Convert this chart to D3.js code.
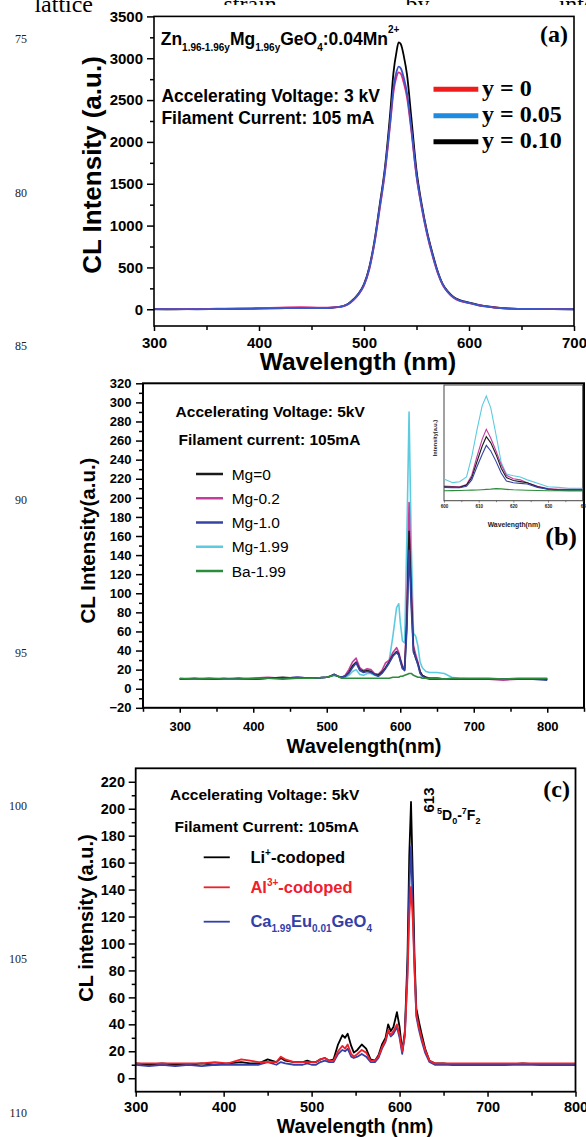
<!DOCTYPE html>
<html><head><meta charset="utf-8">
<script src="https://cdn.jsdelivr.net/npm/d3@7"></script>
<style>body{margin:0;background:#fff}svg{display:block}</style>
</head><body><svg id="c" width="586" height="1137"></svg>
<script>
// ---------------- DATA ----------------
// Panel (a)
const seriesA = ["y = 0", "y = 0.05", "y = 0.10"];
const waveA = [300,320,340,360,380,400,420,440,460,470,480,485,490,495,500,505,510,515,520,525,528,531,533,535,538,541,545,550,555,560,565,570,575,580,585,590,595,600,610,620,630,640,660,680,700];
const aY000 = [2,4,3,6,8,12,20,24,18,22,36,60,110,180,285,475,790,1200,1640,2220,2590,2780,2830,2815,2700,2530,2140,1590,1210,900,650,440,290,200,140,105,88,72,45,28,14,8,4,2,1];
const aY005 = [0,2,0,3,5,8,12,15,13,18,36,62,115,185,290,485,800,1220,1660,2250,2640,2840,2900,2880,2760,2580,2170,1600,1220,910,660,450,295,205,145,110,90,75,45,28,14,7,3,1,0];
const aY010 = [3,0,2,4,6,10,14,16,14,20,38,65,120,190,300,500,820,1250,1700,2350,2820,3080,3190,3170,3020,2800,2300,1660,1250,930,680,460,300,210,150,115,95,80,50,30,15,8,4,2,0];
const ticksAX = [300,400,500,600,700];
const ticksAY = [0,500,1000,1500,2000,2500,3000,3500];

// Panel (b)
const seriesB = ["Mg=0", "Mg-0.2", "Mg-1.0", "Mg-1.99", "Ba-1.99"];
const waveB = [300,320,340,360,380,400,420,440,460,480,500,505,510,515,520,525,530,535,540,545,550,555,560,565,570,575,580,585,590,595,598,600,603,606,609,612,615,618,621,624,627,630,635,640,650,660,670,680,700,720,740,760,780,800];
const bMg0   = [10,11,10,10,11,10,11,12,11,11,12,13,15,13,12,13,17,24,28,20,18,19,18,15,14,17,22,28,35,39,36,30,22,20,70,165,95,40,32,26,18,14,12,11,11,10,10,10,10,10,10,10,10,10];
const bMg02  = [10,10,11,10,10,11,12,11,12,11,12,13,15,13,12,14,20,28,32,22,19,21,20,16,15,19,27,30,38,43,38,32,24,22,85,195,110,45,36,28,18,14,12,11,11,10,10,10,10,10,9,10,10,10];
const bMg10  = [10,10,10,11,10,10,11,11,12,11,12,13,15,13,12,13,16,22,27,19,17,18,17,15,13,16,21,27,34,38,35,29,21,19,62,145,85,38,33,25,16,13,11,10,10,10,10,10,10,10,10,10,10,9];
const bMg199 = [10,10,10,10,11,10,11,11,12,11,12,13,14,13,12,12,14,18,20,15,14,16,16,14,13,16,22,30,55,85,89,70,50,48,160,290,150,58,55,45,28,22,18,17,17,16,12,11,10,10,10,10,10,10];
const bBa199 = [11,10,11,10,10,11,11,10,11,11,12,13,14,13,11,11,11,11,11,11,11,11,11,11,11,11,11,11,12,12,12,13,13,14,15,16,16,14,13,12,12,11,11,11,11,10,11,11,11,11,10,11,11,11];
const ticksBX = [300,400,500,600,700,800];
const ticksBY = [-20,0,20,40,60,80,100,120,140,160,180,200,220,240,260,280,300,320];

// Inset of (b)
const waveI = [600,602.5,604.5,606.5,608,609.5,611,612.2,613.5,615,616.5,618,620,622,624,627,630,633,636,640];
const iMg0   = [12.1,11.8,11.5,13.5,20,33.7,47,55.3,50,40,28,20,17.5,16.5,15.5,12,10,9.2,9.2,9.2];
const iMg02  = [12.7,12.3,12.1,14,22,38,53,61.7,54,43,31,22,19,18,15.5,12.5,10.5,9.8,9.8,9.8];
const iMg10  = [11.5,11.3,11.2,12.5,18,29.4,40,47.8,43,34,24,17,15.5,15,14.4,11.5,10,8.8,8.6,8.6];
const iMg199 = [18.8,15.6,16.4,20.5,38,61,82,90.5,80,57,33,23,21.5,20.5,18,15,12,11.5,10.7,10.7];
const iBa199 = [8.6,8.7,8.8,9,9.1,9.2,9.5,9.8,10,10.4,10.2,9.8,9.4,9.2,9,8.8,8.6,8.6,8.6,8.6];
const ticksIX = [600,610,620,630,640];
const ticksIXLabels = ["600","610","620","630","64"];

// Panel (c)
const waveC = [300,315,330,345,360,375,390,405,420,430,440,450,460,465,470,480,490,495,500,505,510,515,520,525,530,535,538,541,545,548,552,557,562,567,572,576,580,584,587,590,593,597,600,603,606,609,611,613,615,617,619,622,625,629,634,640,650,660,680,700,720,740,760,780,800];
const cLi = [11,10,11,10,10,11,10,11,12,11,11,14,12,15,13,12,12,13,12,12,14,15,13,14,25,32,30,33,24,19,21,25,22,14,13,17,25,30,40,35,38,49,38,20,35,90,165,205,150,90,52,42,33,22,13,11,11,10,10,10,10,11,10,10,10];
const cAl = [11,11,11,11,11,11,12,11,14,13,12,12,12,16,14,12,12,12,12,12,14,15,13,13,20,24,22,25,18,16,18,21,19,13,13,16,23,28,36,32,35,40,32,20,32,75,120,142,118,80,48,38,30,21,13,11,11,11,11,11,11,11,11,11,11];
const cCa = [10,9,10,9,10,9,10,10,10,10,10,12,10,12,11,10,10,11,10,10,12,13,12,12,18,21,20,22,16,15,16,18,16,12,12,15,22,27,35,31,33,38,30,18,32,80,140,172,128,82,46,36,28,19,12,10,10,10,10,10,10,10,10,10,10];
const ticksCX = [300,400,500,600,700,800];
const ticksCY = [0,20,40,60,80,100,120,140,160,180,200,220];

// page text
const headerWords = ["lattice","strain","by","inter"];
const lineNumbers = ["75","80","85","90","95","100","105","110"];

// ---------------- STYLE / LAYOUT ----------------
const SANS = '"Liberation Sans", Arial, Helvetica, sans-serif';
const SERIF = '"Liberation Serif", "Times New Roman", Times, serif';
const legendColorsA = ["#f01c1c", "#1e8ae0", "#000000"];
const curveColorsA = ["#e02c7c", "#3a56c8", "#000000"];
const colorsB = ["#1a1a1a", "#c43c9c", "#3444a4", "#5ccbe0", "#2b8c3c"];
const colorsC = ["#000000", "#f0202a", "#3240a8"];
const headerX = [34.4, 223.5, 405.5, 558.7];
const lineNumY = [42.7, 197.3, 350, 504, 657.3, 810, 963.3, 1117.3];

const svg = d3.select('#c');
svg.append('rect').attr('width',586).attr('height',1137).attr('fill','#fff');

headerWords.forEach((w,i)=>svg.append('text').attr('x',headerX[i]).attr('y',12)
  .attr('font-family',SERIF).attr('font-size',24).attr('fill','#000').text(w));
svg.append('rect').attr('x',100).attr('y',5).attr('width',486).attr('height',20).attr('fill','#fff');
lineNumbers.forEach((n,i)=>svg.append('text').attr('x',27).attr('y',lineNumY[i])
  .attr('text-anchor','end').attr('font-family',SERIF).attr('font-size',12).attr('fill','#222').text(n));

function drawAxes(g, x, y, o){
  const xb = y.range()[0], yl = x.range()[0];
  const styleAx = s => { s.select('.domain').remove();
    s.selectAll('.tick line').attr('stroke','#000').attr('stroke-width',o.sw);
    s.selectAll('.tick text').attr('fill','#000').attr('font-family',SANS).attr('font-weight','bold').attr('font-size',o.fs); };
  g.append('g').attr('transform',`translate(0,${xb})`)
    .call(d3.axisBottom(x).tickValues(o.xMinor).tickSize(o.minor).tickFormat('')).call(styleAx);
  g.append('g').attr('transform',`translate(0,${xb})`)
    .call(d3.axisBottom(x).tickValues(o.xMajor).tickSize(o.xTick).tickPadding(o.xPad).tickFormat(d3.format('d'))).call(styleAx);
  g.append('g').attr('transform',`translate(${yl},0)`)
    .call(d3.axisLeft(y).tickValues(o.yMinor).tickSize(o.minor).tickFormat('')).call(styleAx);
  g.append('g').attr('transform',`translate(${yl},0)`)
    .call(d3.axisLeft(y).tickValues(o.yMajor).tickSize(o.yTick).tickPadding(o.yPad).tickFormat(d3.format('d'))).call(styleAx);
  g.append('rect').attr('x',yl).attr('y',y.range()[1])
    .attr('width',x.range()[1]-yl).attr('height',xb-y.range()[1])
    .attr('fill','none').attr('stroke','#000').attr('stroke-width',o.frame);
}
function rich(g, x, y, parts, attrs){
  const t = g.append('text').attr('x',x).attr('y',y);
  Object.entries(attrs).forEach(([k,v])=>t.attr(k,v));
  let cur = 0;
  parts.forEach(p=>{
    const off = p[1]||0;
    const ts = t.append('tspan').attr('dy', off-cur).text(p[0]);
    if(p[2]) ts.attr('font-size',p[2]);
    cur = off;
  });
  return t;
}
function txt(g,x,y,s,fs,opts={}){
  const t=g.append('text').attr('x',x).attr('y',y).attr('font-family',opts.serif?SERIF:SANS)
    .attr('font-size',fs).attr('font-weight',opts.normal?'normal':'bold').attr('fill',opts.fill||'#000').text(s);
  if(opts.anchor) t.attr('text-anchor',opts.anchor);
  if(opts.rotate) t.attr('transform',`rotate(-90,${x},${y})`);
  return t;
}
const range = (a,b,s)=>d3.range(a,b+1e-9,s);

// ---------------- PANEL (a) ----------------
{
  const g = svg.append('g');
  const x = d3.scaleLinear([300,700],[154,574]);
  const y = d3.scaleLinear([-200,3500],[326,16.4]);
  const line = d3.line().x(d=>x(d[0])).y(d=>y(d[1])).curve(d3.curveMonotoneX);
  [aY010, aY000, aY005].forEach((vals,k)=>{
    const idx = [2,0,1][k];
    g.append('path').datum(d3.zip(waveA, vals)).attr('d',line).attr('fill','none')
      .attr('stroke',curveColorsA[idx]).attr('stroke-width',1.8);
  });
  drawAxes(g,x,y,{xMajor:ticksAX,xMinor:range(350,650,100),yMajor:ticksAY,yMinor:range(250,3250,500),
    minor:4,xTick:5,yTick:7,xPad:6,yPad:4,fs:15,sw:1.5,frame:1.6});
  rich(g,160.7,45,[["Zn"],["1.96-1.96y",6,10],["Mg",0],["1.96y",6,10],["GeO",0],["4",6,10],[":0.04Mn",0],["2+",-12,10]],
    {'font-family':SANS,'font-weight':'bold','font-size':17.5});
  txt(g,161.4,101.7,"Accelerating Voltage: 3 kV",17.5);
  txt(g,161.4,124,"Filament Current: 105 mA",17.5);
  txt(g,568,41.6,"(a)",24,{serif:true,anchor:'end'});
  const ly = [89.3,115.7,141.7];
  seriesA.forEach((s,i)=>{
    g.append('line').attr('x1',433.5).attr('x2',478.3).attr('y1',ly[i]).attr('y2',ly[i])
      .attr('stroke',legendColorsA[i]).attr('stroke-width',5);
    txt(g,482,ly[i]+6.5,s,24,{serif:true});
  });
  txt(g,101,165,"CL Intensity (a.u.)",26,{anchor:'middle',rotate:true});
  txt(g,358,370,"Wavelength (nm)",24.5,{anchor:'middle'});
}

// ---------------- PANEL (b) ----------------
{
  const g = svg.append('g');
  const x = d3.scaleLinear([250,850],[143,584]);
  const y = d3.scaleLinear([-20,320],[707.8,383.3]);
  const line = d3.line().x(d=>x(d[0])).y(d=>y(d[1]));
  const bSeries = [bMg0,bMg02,bMg10,bMg199,bBa199];
  [3,1,0,2,4].forEach(i=>{
    g.append('path').datum(d3.zip(waveB,bSeries[i])).attr('d',line).attr('fill','none')
      .attr('stroke',colorsB[i]).attr('stroke-width',1.6).attr('stroke-linejoin','round');
  });
  drawAxes(g,x,y,{xMajor:ticksBX,xMinor:range(250,850,50).filter(v=>v%100!==0),yMajor:ticksBY,yMinor:range(-10,310,20),
    minor:4,xTick:5,yTick:7,xPad:9,yPad:4.5,fs:13,sw:1.5,frame:2});
  txt(g,175.6,417,"Accelerating Voltage: 5kV",15.5);
  txt(g,178.6,445,"Filament current: 105mA",15.5);
  seriesB.forEach((s,i)=>{
    const yy = 474 + i*24.25;
    g.append('line').attr('x1',196).attr('x2',223).attr('y1',yy).attr('y2',yy)
      .attr('stroke',colorsB[i]).attr('stroke-width',2.5);
    txt(g,231.7,yy+5.5,s,15.5,{normal:true});
  });
  txt(g,577,544.5,"(b)",26,{serif:true,anchor:'end'});
  txt(g,95,540.5,"CL Intensity(a.u.)",20.5,{anchor:'middle',rotate:true});
  txt(g,364,753,"Wavelength(nm)",20,{anchor:'middle'});

  // inset
  const xi = d3.scaleLinear([600,640],[444,582.7]);
  const yi = d3.scaleLinear([0,100],[500.7,385]);
  g.append('rect').attr('x',444).attr('y',385).attr('width',138.7).attr('height',115.7)
    .attr('fill','#fff').attr('stroke','#444').attr('stroke-width',1);
  const li = d3.line().x(d=>xi(d[0])).y(d=>yi(d[1]));
  const iSeries = [iMg0,iMg02,iMg10,iMg199,iBa199];
  [3,1,0,2,4].forEach(i=>{
    g.append('path').datum(d3.zip(waveI,iSeries[i])).attr('d',li).attr('fill','none')
      .attr('stroke',colorsB[i]).attr('stroke-width',1.1);
  });
  const ax = g.append('g').attr('transform','translate(0,500.7)')
    .call(d3.axisBottom(xi).tickValues(ticksIX).tickSize(2).tickPadding(2).tickFormat((d,i)=>ticksIXLabels[i]));
  ax.select('.domain').remove();
  ax.selectAll('.tick line').attr('stroke','#444').attr('stroke-width',0.6);
  ax.selectAll('.tick text').attr('fill','#222').attr('font-family',SANS).attr('font-weight','bold').attr('font-size',4.5);
  const axm = g.append('g').attr('transform','translate(0,500.7)')
    .call(d3.axisBottom(xi).tickValues([605,615,625,635]).tickSize(1.5).tickFormat(''));
  axm.select('.domain').remove();
  axm.selectAll('.tick line').attr('stroke','#444').attr('stroke-width',0.6);
  txt(g,514,527,"Wavelength(nm)",6.8,{anchor:'middle',fill:'#222'});
  txt(g,437,438,"Intensity(a.u.)",5.6,{anchor:'middle',rotate:true,fill:'#222'});
}

// ---------------- PANEL (c) ----------------
{
  const g = svg.append('g');
  const x = d3.scaleLinear([300,800],[135.7,575.5]);
  const y = d3.scaleLinear([-10,230],[1091.7,768.3]);
  const line = d3.line().x(d=>x(d[0])).y(d=>y(d[1]));
  const cSeries = [cLi,cAl,cCa];
  [0,2,1].forEach(i=>{
    g.append('path').datum(d3.zip(waveC,cSeries[i])).attr('d',line).attr('fill','none')
      .attr('stroke',colorsC[i]).attr('stroke-width',1.8).attr('stroke-linejoin','round');
  });
  drawAxes(g,x,y,{xMajor:ticksCX,xMinor:range(350,750,100),yMajor:ticksCY,yMinor:range(10,210,20),
    minor:4,xTick:5,yTick:7,xPad:5.5,yPad:3.7,fs:14.5,sw:1.5,frame:1.8});
  txt(g,170,800,"Accelerating Voltage: 5kV",15.5);
  txt(g,174.5,831.7,"Filament Current: 105mA",15.5);
  const ly = [857.3,887.3,921.7];
  ly.forEach((yy,i)=>g.append('line').attr('x1',203.7).attr('x2',229.8).attr('y1',yy).attr('y2',yy)
    .attr('stroke',colorsC[i]).attr('stroke-width',1.8));
  const la = {'font-family':SANS,'font-weight':'bold','font-size':16.5};
  rich(g,250.4,863.3,[["Li"],["+",-7,10],["-codoped",0]],Object.assign({fill:colorsC[0]},la));
  rich(g,250.4,892.7,[["Al"],["3+",-7,10],["-codoped",0]],Object.assign({fill:colorsC[1]},la));
  rich(g,250.4,926.7,[["Ca"],["1.99",5,10],["Eu",0],["0.01",5,10],["GeO",0],["4",5,10]],Object.assign({fill:colorsC[2]},la));
  txt(g,433.5,800,"613",15,{anchor:'middle',rotate:true});
  rich(g,437,820,[["5",-6,9],["D",0],["0",4,9],["-",0],["7",-6,9],["F",0],["2",4,9]],
    {'font-family':SANS,'font-weight':'bold','font-size':14});
  txt(g,570,797,"(c)",24,{serif:true,anchor:'end'});
  txt(g,93,918,"CL intensity (a.u.)",20,{anchor:'middle',rotate:true});
  txt(g,355,1133,"Wavelength (nm)",19.5,{anchor:'middle'});
}
</script></body></html>
